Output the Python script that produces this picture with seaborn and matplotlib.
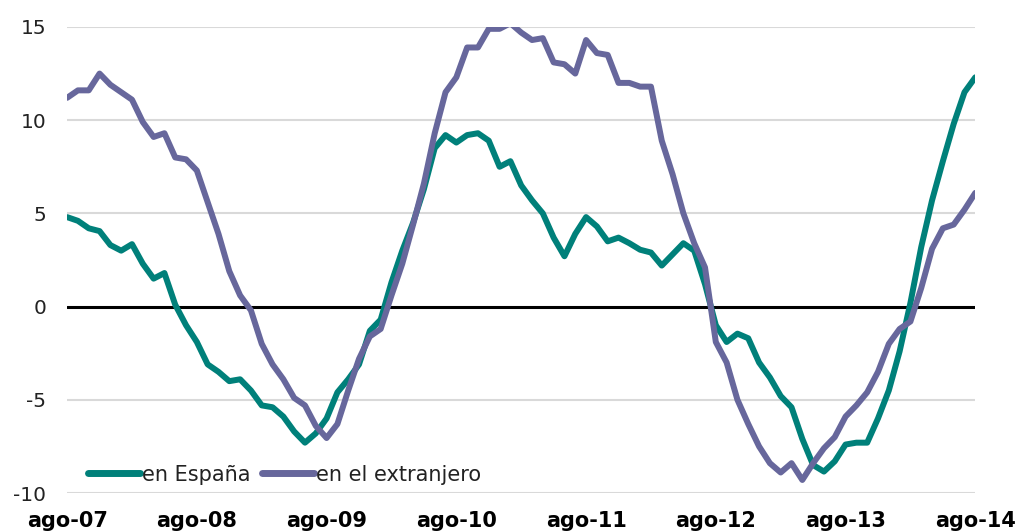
import numpy as np
import pandas as pd
import matplotlib
matplotlib.use("Agg")
import matplotlib.pyplot as plt
import seaborn as sns

# Monthly series, ago-07 .. ago-14 (85 months)
espana = [4.8, 4.6, 4.2, 4.05, 3.3, 3.0, 3.35, 2.3, 1.5, 1.8,
          0.1, -1.0, -1.9, -3.1, -3.5, -4.0, -3.9, -4.5, -5.3, -5.4,
          -5.9, -6.7, -7.3, -6.8, -6.0, -4.6, -3.9, -3.1, -1.3, -0.7,
          1.3, 3.0, 4.5, 6.3, 8.5, 9.2, 8.8, 9.2, 9.3, 8.9,
          7.5, 7.8, 6.5, 5.7, 5.0, 3.7, 2.7, 3.9, 4.8, 4.3,
          3.5, 3.7, 3.4, 3.05, 2.9, 2.2, 2.8, 3.4, 3.0, 1.2,
          -1.0, -1.9, -1.45, -1.7, -3.0, -3.8, -4.8, -5.4, -7.1, -8.5,
          -8.85, -8.3, -7.4, -7.3, -7.3, -6.0, -4.5, -2.4, 0.2, 3.2,
          5.7, 7.8, 9.8, 11.5, 12.3]
extranjero = [11.2, 11.6, 11.6, 12.5, 11.9, 11.5, 11.1, 9.9, 9.1, 9.3,
              8.0, 7.9, 7.3, 5.6, 3.9, 1.9, 0.6, -0.2, -2.0, -3.1,
              -3.9, -4.9, -5.3, -6.4, -7.05, -6.3, -4.5, -2.8, -1.6, -1.2,
              0.6, 2.3, 4.4, 6.6, 9.3, 11.5, 12.3, 13.9, 13.9, 14.9,
              14.9, 15.2, 14.7, 14.3, 14.4, 13.1, 13.0, 12.5, 14.3, 13.6,
              13.5, 12.0, 12.0, 11.8, 11.8, 8.9, 7.1, 5.0, 3.4, 2.1,
              -1.9, -3.0, -5.0, -6.3, -7.5, -8.4, -8.9, -8.4, -9.3, -8.4,
              -7.6, -7.0, -5.9, -5.3, -4.6, -3.5, -2.0, -1.2, -0.8, 1.0,
              3.1, 4.2, 4.4, 5.2, 6.1]
series_names = ["en España", "en el extranjero"]
tick_labels = ["ago-07", "ago-08", "ago-09", "ago-10", "ago-11", "ago-12", "ago-13", "ago-14"]
y_ticks = [-10, -5, 0, 5, 10, 15]

meses = np.arange(len(espana))
df = pd.concat([
    pd.DataFrame({"mes": meses, "valor": espana, "serie": series_names[0]}),
    pd.DataFrame({"mes": meses, "valor": extranjero, "serie": series_names[1]}),
])

sns.set_theme(style="white")
plt.rcParams['font.family'] = ['DejaVu Sans']

fig = plt.figure(figsize=(10.17, 5.32), dpi=100)
ax = fig.add_axes([0.066, 0.0733, 0.893, 0.8760])

palette = {series_names[0]: "#00807A", series_names[1]: "#67679C"}
for y in y_ticks:
    if y != 0:
        ax.axhline(y, color="#D9D9D9", lw=1.5, zorder=0)
ax.axhline(0, color="black", lw=2.2, zorder=1)

sns.lineplot(data=df, x="mes", y="valor", hue="serie", palette=palette,
             linewidth=4.3, ax=ax, solid_capstyle="round",
             solid_joinstyle="round", zorder=3)

ax.set_xlim(0, 84)
ax.set_ylim(-10, 15)
ax.set_xticks(np.arange(0, 85, 12))
ax.set_xticklabels(tick_labels, fontsize=15, fontweight="bold", color="black")
ax.set_yticks(y_ticks)
ax.set_yticklabels([str(v) for v in y_ticks], fontsize=14.5, color="#222222")
ax.tick_params(axis="x", length=0, pad=13)
ax.tick_params(axis="y", length=0, pad=15)
ax.set_xlabel("")
ax.set_ylabel("")
for s in ax.spines.values():
    s.set_visible(False)

leg = ax.legend(loc="lower left", bbox_to_anchor=(0.023, 0.018), ncol=2, frameon=False,
                fontsize=15, handlelength=2.5, handletextpad=0.1, columnspacing=0.55,
                borderpad=0, borderaxespad=0)
for t in leg.get_texts():
    t.set_color("#222222")
for line in leg.get_lines():
    line.set_linewidth(5)
    line.set_solid_capstyle("round")

fig.savefig("out.png", dpi=100)
